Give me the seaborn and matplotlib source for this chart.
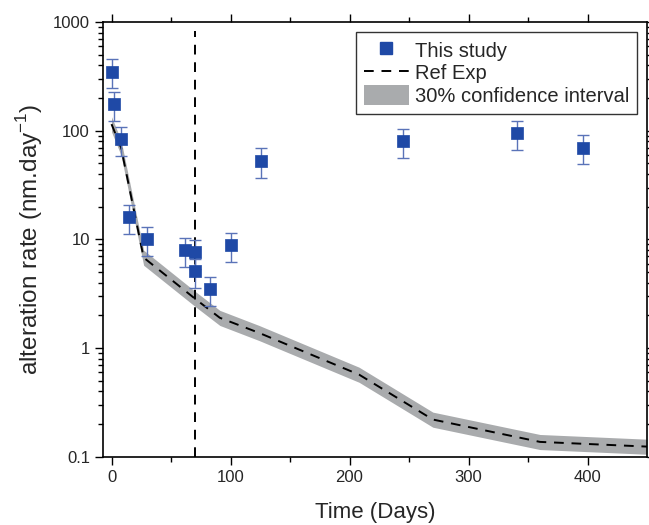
import numpy as np
import pandas as pd
import seaborn as sns
import matplotlib.pyplot as plt
from matplotlib.ticker import FixedLocator, NullFormatter
from matplotlib.patches import Patch
from matplotlib.lines import Line2D

# data
study_days = [0, 2, 8, 15, 30, 62, 70, 70, 83, 100, 126, 245, 341, 396]
study_rate = [350, 175, 84, 16, 10, 8.0, 7.6, 5.1, 3.5, 8.9, 53, 80, 95, 70]
study_err = [0.3 * v for v in study_rate]

ref_days = [0, 8, 27, 71, 91, 124, 208, 270, 360, 450]
ref_rate = [115, 70, 6.8, 2.8, 1.9, 1.38, 0.57, 0.22, 0.137, 0.124]
ref_low = [0.85 * v for v in ref_rate]
ref_high = [1.17 * v for v in ref_rate]

cutoff_day = 70

y_major = [0.1, 1, 10, 100, 1000]
y_labels = ['0.1', '1', '10', '100', '1000']
y_minor = [m * d for d in y_major[:-1] for m in range(2, 10)]
x_major = [0, 100, 200, 300, 400]
x_minor = [50, 150, 250, 350]

sns.set_theme(style="ticks")
plt.rcParams['font.family'] = ['Liberation Sans', 'DejaVu Sans']

blue = '#1f49a6'
band = '#a9abad'

fig, ax = plt.subplots(figsize=(6.49, 5.25), dpi=100)
fig.subplots_adjust(left=0.159, right=0.997, top=0.958, bottom=0.13)

ax.fill_between(ref_days, ref_low, ref_high, color=band, linewidth=0, zorder=1)
sns.lineplot(x=ref_days, y=ref_rate, ax=ax, color='black',
             linestyle=(0, (5, 4)), linewidth=1.4, zorder=2)
ax.axvline(cutoff_day, ymax=0.98, color='black', linestyle=(0, (5, 4)), linewidth=1.4, zorder=2)
ax.errorbar(study_days, study_rate, yerr=study_err, fmt='none', ecolor='#5a73b8',
            elinewidth=1, capsize=4, capthick=1, zorder=3)
sns.scatterplot(x=study_days, y=study_rate, ax=ax, marker='s', s=65,
                color=blue, edgecolor=blue, linewidth=0.5, zorder=4)

ax.set_yscale('log')
ax.set_ylim(0.1, 1000)
ax.set_xlim(-7, 450)

for s in ax.spines.values():
    s.set_color('black')
    s.set_linewidth(1.2)

ax.set_xlabel('Time (Days)', fontsize=16, labelpad=12)
ax.set_ylabel('alteration rate (nm.day$^{\\mathregular{-1}}$)', fontsize=17.5, labelpad=6)

handles = [
    Line2D([], [], marker='s', color=blue, linestyle='none', markersize=8),
    Line2D([], [], color='black', linestyle=(0, (5, 4)), linewidth=1.4),
    Patch(facecolor=band, edgecolor='none'),
]
labels = ['This study', 'Ref Exp', '30% confidence interval']
leg = ax.legend(handles, labels, loc='upper right', borderaxespad=0.5,
                fontsize=14.5, frameon=True, fancybox=False, borderpad=0.4,
                handlelength=2.2, handleheight=1.1, handletextpad=0.3,
                labelspacing=0.1)
leg.get_frame().set_edgecolor('black')
leg.get_frame().set_linewidth(1)

# ticks last, so nothing above can reset them
ax.xaxis.set_major_locator(FixedLocator(x_major))
ax.xaxis.set_minor_locator(FixedLocator(x_minor))
ax.yaxis.set_major_locator(FixedLocator(y_major))
ax.yaxis.set_minor_locator(FixedLocator(y_minor))
ax.yaxis.set_minor_formatter(NullFormatter())
ax.set_yticklabels(y_labels)
ax.tick_params(axis='both', which='major', labelsize=12, length=6, width=1,
               direction='out', color='black', left=True, bottom=True,
               top=True, right=True)
ax.tick_params(axis='both', which='minor', length=3.5, width=1,
               direction='out', color='black', left=True, bottom=True,
               top=True, right=True)

fig.canvas.draw()
fig.savefig('out.png', dpi=100)
